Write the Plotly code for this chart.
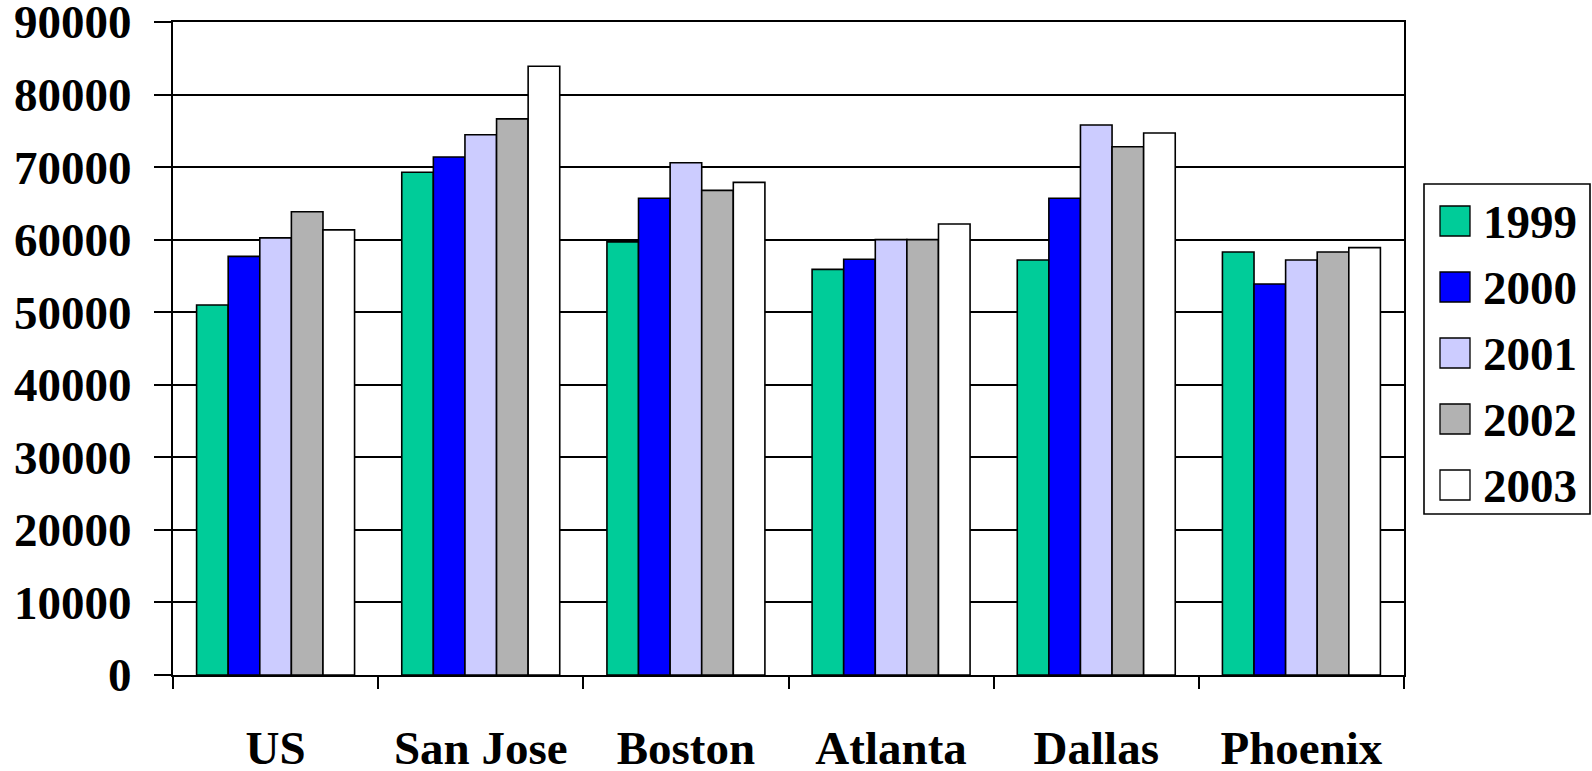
import plotly.graph_objects as go

# Median household income by metro area, 1999-2003
cities = ["US", "San Jose", "Boston", "Atlanta", "Dallas", "Phoenix"]
years = ["1999", "2000", "2001", "2002", "2003"]

v1999 = [51000, 69300, 59700, 55900, 57200, 58300]
v2000 = [57700, 71400, 65700, 57300, 65700, 53900]
v2001 = [60250, 74450, 70600, 60000, 75800, 57200]
v2002 = [63850, 76650, 66800, 60000, 72800, 58300]
v2003 = [61350, 83900, 67900, 62150, 74700, 58900]

series = [v1999, v2000, v2001, v2002, v2003]
colors = ["#00CC99", "#0000FF", "#CCCCFF", "#B2B2B2", "#FFFFFF"]

y_ticks = list(range(0, 90001, 10000))

W, H = 1592, 771
ML, MR, MT, MB = 173, 188, 22, 96
PW, PH = W - ML - MR, H - MT - MB

FONT = dict(family="Liberation Serif", size=47, color="black", weight="bold")


def px_x(x):
    return (x - ML) / PW


def px_y(y):
    return (H - MB - y) / PH


fig = go.Figure()
for name, vals, col in zip(years, series, colors):
    fig.add_trace(go.Bar(
        x=cities, y=vals, name=name,
        marker=dict(color=col, line=dict(color="black", width=1.6)),
        showlegend=False,
    ))

# Legend drawn as a framed box with square swatches
shapes = [dict(type="rect", xref="paper", yref="paper",
               x0=px_x(1424), x1=px_x(1590), y0=px_y(514), y1=px_y(184),
               line=dict(color="black", width=1.6), fillcolor="white")]
annotations = []
for i, (name, col) in enumerate(zip(years, colors)):
    top = 206 + i * 66
    shapes.append(dict(type="rect", xref="paper", yref="paper",
                       x0=px_x(1440), x1=px_x(1470), y0=px_y(top + 30), y1=px_y(top),
                       line=dict(color="black", width=1.3), fillcolor=col))
    annotations.append(dict(xref="paper", yref="paper", x=px_x(1481), y=px_y(top + 16),
                            xanchor="left", yanchor="middle", text=name,
                            showarrow=False, font=FONT))

fig.update_layout(
    width=W, height=H,
    margin=dict(l=ML, r=MR, t=MT, b=MB, pad=0, autoexpand=False),
    paper_bgcolor="white", plot_bgcolor="white",
    barmode="group", bargap=0.23, bargroupgap=0,
    font=FONT,
    shapes=shapes, annotations=annotations,
)
fig.update_xaxes(
    type="category", tickson="boundaries", ticks="outside", ticklen=12,
    tickwidth=1.6, tickcolor="black",
    showline=True, linecolor="black", linewidth=2, mirror=True,
    showgrid=False, tickfont=FONT, ticklabelstandoff=31, automargin=False,
)
fig.update_yaxes(
    range=[0, 90000], tickvals=y_ticks, ticktext=[str(v) for v in y_ticks],
    ticks="outside", ticklen=17, tickwidth=1.6, tickcolor="black",
    showline=True, linecolor="black", linewidth=2, mirror=True,
    showgrid=True, gridcolor="black", gridwidth=1.6, zeroline=False,
    tickfont=FONT, ticklabelstandoff=13, automargin=False,
    ticklabeloverflow="allow",
)

fig.write_html("out.html")
